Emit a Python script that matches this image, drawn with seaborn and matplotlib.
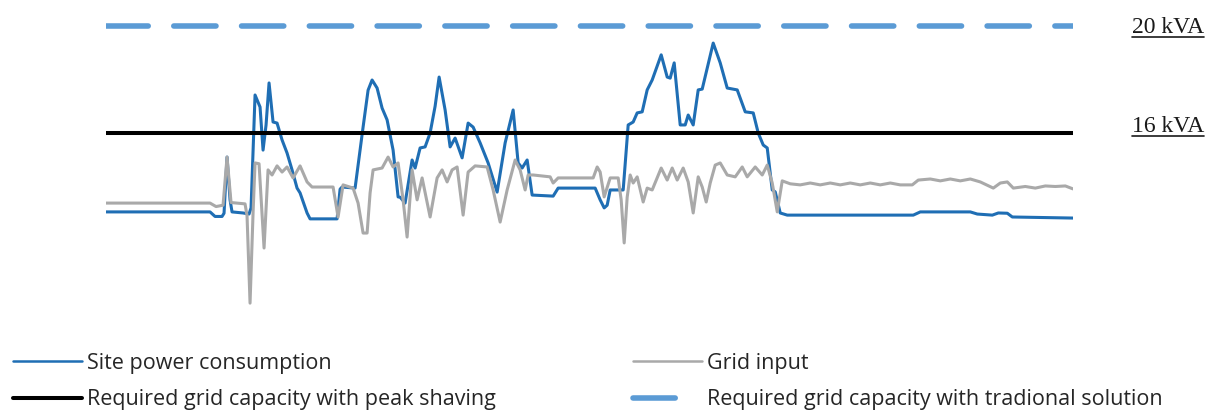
import matplotlib
matplotlib.use("Agg")
import matplotlib.pyplot as plt
from matplotlib.lines import Line2D
import seaborn as sns
import pandas as pd

# time in minutes over one day, power in kVA
site_time = [0, 156, 163.5, 174, 177, 181.5, 186, 189, 205.5, 214.5, 217.5, 223.5, 231, 235.5,
             240, 244.5, 250.5, 256.5, 264, 271.5, 279, 286.5, 291, 301.5, 306, 346.5, 351, 354,
             373.5, 385.5, 393, 399, 406.5, 414, 421.5, 430.5, 438, 441, 448.5, 459, 463.5, 471,
             478.5, 486, 493.5, 499.5, 508.5, 516, 523.5, 534, 543, 550.5, 561, 573, 586.5, 598.5,
             610.5, 618, 624, 631.5, 639, 670.5, 678, 733.5, 741, 747, 751.5, 756, 775.5, 783,
             790.5, 796.5, 804, 811.5, 819, 832.5, 841.5, 846, 852, 861, 868.5, 873, 880.5, 888,
             894, 910.5, 921, 931.5, 946.5, 958.5, 970.5, 978, 985.5, 991.5, 999, 1003.5, 1011,
             1021.5, 1210.5, 1221, 1296, 1306.5, 1329, 1338, 1351.5, 1359, 1450]
site_kva = [13.05, 13.05, 12.88, 12.88, 13.0, 15.10, 13.5, 13.05, 13.01, 12.97, 13.2, 17.42, 16.97, 15.36,
            16.3, 17.87, 16.41, 16.37, 15.74, 15.25, 14.62, 13.94, 13.76, 13.01, 12.79, 12.79, 13.9, 13.98,
            13.94, 16.22, 17.6, 17.98, 17.68, 16.93, 16.49, 15.36, 13.61, 13.6, 13.38, 14.99, 14.69, 15.44,
            15.48, 16.0, 17.0, 18.09, 16.86, 15.48, 15.81, 15.07, 16.37, 16.22, 15.63, 14.88, 13.79, 15.63,
            16.86, 14.88, 14.69, 14.99, 13.68, 13.64, 13.94, 13.94, 13.5, 13.2, 13.3, 13.87, 13.87, 16.3,
            16.41, 16.75, 16.79, 17.61, 17.98, 18.92, 18.09, 18.05, 18.62, 16.3, 16.3, 16.67, 16.3, 17.61,
            17.64, 19.36, 18.62, 17.68, 17.61, 16.79, 16.75, 16.0, 15.55, 15.44, 13.87, 13.8, 13.01,
            12.93, 12.93, 13.05, 13.05, 12.97, 12.93, 13.01, 13.0, 12.86, 12.82]

grid_time = [0, 156, 165, 175.5, 181.5, 187.5, 208.5, 211.5, 216, 220.5, 223.5, 229.5, 237, 243,
             249, 256.5, 264, 271.5, 280.5, 291, 301.5, 309, 340.5, 348, 355.5, 370.5, 378, 385.5,
             391.5, 396, 400.5, 414, 423, 430.5, 438, 445.5, 451.5, 459, 466.5, 474, 486, 496.5,
             504, 511.5, 519, 526.5, 535.5, 543, 553.5, 571.5, 580.5, 591, 601.5, 613.5, 621, 628.5,
             633, 640.5, 666, 670.5, 678, 730.5, 736.5, 741, 747, 756, 768, 772.5, 777, 781.5,
             786, 790.5, 796.5, 805.5, 811.5, 819, 832.5, 841.5, 849, 856.5, 865.5, 873, 880.5, 888,
             894, 900, 906, 913.5, 921, 931.5, 943.5, 954, 961.5, 973.5, 984, 991.5, 999, 1006.5,
             1014, 1026, 1041, 1056, 1071, 1086, 1101, 1116, 1131, 1146, 1161, 1176, 1191, 1209,
             1218, 1236, 1251, 1266, 1281, 1296, 1311, 1330.5, 1341, 1351.5, 1360.5, 1378.5, 1393.5,
             1408.5, 1423.5, 1438.5, 1450]
grid_kva = [13.38, 13.38, 13.25, 13.3, 15.10, 13.4, 13.35, 12.9, 9.64, 13.0, 14.88, 14.85, 11.70, 14.62,
            14.43, 14.77, 14.54, 14.73, 14.32, 14.77, 14.17, 13.98, 13.98, 12.86, 14.06, 13.94, 13.38, 12.26,
            12.26, 13.76, 14.62, 14.69, 15.10, 14.73, 14.88, 13.5, 12.11, 14.62, 13.50, 14.32, 12.86, 14.32,
            14.62, 14.17, 14.62, 14.73, 12.93, 14.54, 14.77, 14.73, 13.87, 12.67, 13.87, 14.99, 14.62, 13.87,
            14.43, 14.43, 14.36, 14.13, 14.32, 14.32, 14.73, 14.54, 13.61, 14.32, 14.32, 13.5, 11.89, 13.6,
            14.43, 14.13, 14.36, 13.42, 13.94, 13.87, 14.69, 14.24, 14.69, 14.24, 14.69, 14.17, 13.01, 14.36,
            13.98, 13.42, 14.13, 14.80, 14.88, 14.43, 14.36, 14.73, 14.36, 14.73, 14.43, 14.80, 14.13, 13.05,
            14.21, 14.10, 14.06, 14.13, 14.06, 14.13, 14.06, 14.13, 14.06, 14.13, 14.06, 14.13, 14.06, 14.06,
            14.24, 14.28, 14.21, 14.28, 14.21, 14.28, 14.17, 13.94, 14.13, 14.17, 13.94, 14.0, 13.94,
            14.02, 14.0, 14.02, 13.91]

peak_shaving_kva = 16
traditional_kva = 20
capacity_labels = ["20 kVA", "16 kVA"]
legend_labels = ["Site power consumption", "Required grid capacity with peak shaving",
                 "Grid input", "Required grid capacity with tradional solution"]

blue = "#1f6eb4"
gray = "#a9a9a9"
light_blue = "#5b9bd5"

sns.set_theme(style="white")
plt.rcParams["font.family"] = ["Open Sans", "DejaVu Sans"]

fig = plt.figure(figsize=(12.13, 4.12), dpi=100)
ax = fig.add_axes([106 / 1213, 1 - 320 / 412, 967 / 1213, 320 / 412])

site = pd.DataFrame({"time": site_time, "kva": site_kva})
grid = pd.DataFrame({"time": grid_time, "kva": grid_kva})
sns.lineplot(data=site, x="time", y="kva", color=blue, linewidth=2.2, ax=ax)
sns.lineplot(data=grid, x="time", y="kva", color=gray, linewidth=2.2, ax=ax)
for ln in ax.lines:
    ln.set_solid_joinstyle("round")

t0, t1 = site_time[0], site_time[-1]
ax.plot([t0, t1], [peak_shaving_kva] * 2, color="black", linewidth=2.9, solid_capstyle="round")
ax.plot([t0, t1], [traditional_kva] * 2, color=light_blue, linewidth=4,
        linestyle=(0, (7.6, 4.6)), dash_capstyle="round")

ax.set_xlim(t0, t1)
ax.set_ylim(9.01, 20.97)
ax.axis("off")

# right side capacity labels, underlined
label_x = 1538
texts = []
for lab, val, off in zip(capacity_labels, [traditional_kva, peak_shaving_kva], [-0.27, 0.04]):
    t = ax.text(label_x, val + off, lab, fontsize=17, family="Liberation Serif",
                va="baseline", ha="left", color="#1a1a1a", clip_on=False)
    texts.append(t)

fig.canvas.draw()
renderer = fig.canvas.get_renderer()
for t in texts:
    bb = t.get_window_extent(renderer)
    base = ax.transData.transform(t.get_position())[1]
    y = (base - 4) / fig.bbox.height
    fig.add_artist(Line2D([bb.x0 / fig.bbox.width, bb.x1 / fig.bbox.width], [y, y],
                          transform=fig.transFigure, color="#1a1a1a", linewidth=1.2))

handles = [
    Line2D([], [], color=blue, linewidth=1.8),
    Line2D([], [], color="black", linewidth=2.9),
    Line2D([], [], color=gray, linewidth=1.8),
    Line2D([], [], color=light_blue, linewidth=4, linestyle=(0, (7.6, 12)), dash_capstyle="round"),
]
fig.legend(handles, legend_labels, loc="upper left", bbox_to_anchor=(13 / 1213, 1 - 353 / 412),
           bbox_transform=fig.transFigure, ncol=2, frameon=False, fontsize=15.5,
           handlelength=3.2, handletextpad=0.25, columnspacing=6.35, labelspacing=0.7,
           borderpad=0, borderaxespad=0)

fig.savefig("out.png", dpi=100)
plt.close(fig)
